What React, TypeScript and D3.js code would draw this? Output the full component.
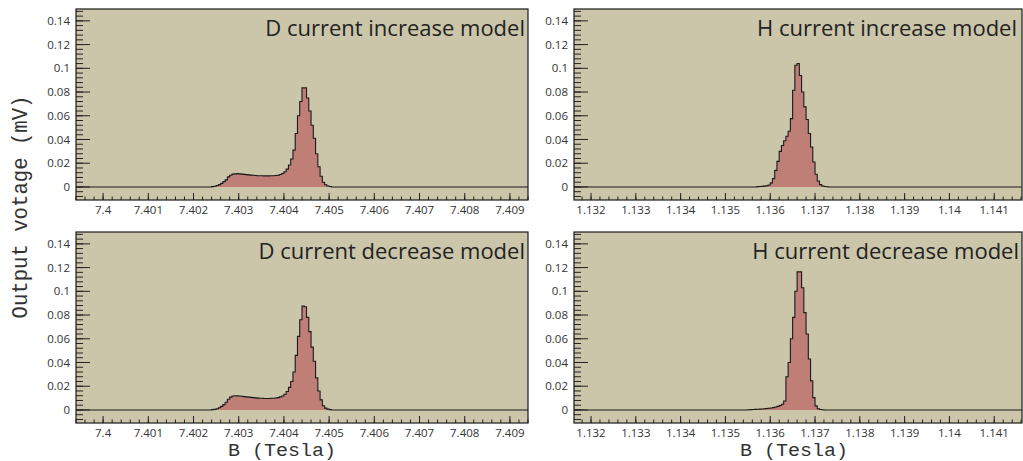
import React from 'react';
import * as d3 from 'd3';

// ---------- data ----------
const BIN_WIDTH = 0.00005;
const Y_DOMAIN: [number, number] = [-0.011, 0.15];
const Y_TICKS = [0, 0.02, 0.04, 0.06, 0.08, 0.1, 0.12, 0.14];

const D_X_DOMAIN: [number, number] = [7.3994, 7.4094];
const D_X_TICKS = [7.4, 7.401, 7.402, 7.403, 7.404, 7.405, 7.406, 7.407, 7.408, 7.409];
const H_X_DOMAIN: [number, number] = [1.13162, 1.14162];
const H_X_TICKS = [1.132, 1.133, 1.134, 1.135, 1.136, 1.137, 1.138, 1.139, 1.14, 1.141];

const D_INC_START = 7.4024;
const D_INC_VALUES = [
  0.0003, 0.0006, 0.0012, 0.002, 0.003, 0.0045, 0.006, 0.0085, 0.0098, 0.0108,
  0.011, 0.0112, 0.011, 0.0108, 0.0106, 0.0104, 0.0102, 0.01, 0.0098, 0.0096,
  0.0095, 0.0094, 0.0094, 0.0093, 0.0093, 0.0093, 0.0094, 0.0094, 0.0096, 0.0099,
  0.0105, 0.0113, 0.0128, 0.015, 0.0185, 0.0235, 0.031, 0.045, 0.06, 0.072,
  0.0835, 0.0835, 0.075, 0.064, 0.052, 0.041, 0.028, 0.017, 0.009, 0.004,
  0.0018, 0.0008, 0.0004,
];

const D_DEC_START = 7.4024;
const D_DEC_VALUES = [
  0.0003, 0.0005, 0.001, 0.0018, 0.003, 0.0045, 0.0065, 0.009, 0.0108, 0.0118,
  0.012, 0.0119, 0.0117, 0.0115, 0.0112, 0.011, 0.0108, 0.0106, 0.0104, 0.0102,
  0.01, 0.0099, 0.0098, 0.0097, 0.0097, 0.0097, 0.0098, 0.0099, 0.0101, 0.0104,
  0.011, 0.0118, 0.0132, 0.0155, 0.019, 0.024, 0.032, 0.046, 0.062, 0.076,
  0.0875, 0.087, 0.078, 0.066, 0.053, 0.041, 0.027, 0.016, 0.0085, 0.0035,
  0.0015, 0.0007, 0.0003,
];

const H_INC_START = 1.1357;
const H_INC_VALUES = [
  0.0003, 0.0004, 0.0005, 0.0007, 0.001, 0.0016, 0.0034, 0.007, 0.014, 0.0216,
  0.03, 0.035, 0.039, 0.0427, 0.047, 0.0576, 0.0815, 0.1026, 0.104, 0.094,
  0.08, 0.0675, 0.0568, 0.045, 0.0337, 0.021, 0.0107, 0.005, 0.002, 0.0008,
  0.0004, 0.0002,
];

const H_DEC_START = 1.1355;
const H_DEC_VALUES = [
  0.0002, 0.0003, 0.0004, 0.0005, 0.0006, 0.0007, 0.0008, 0.001, 0.0012, 0.0014,
  0.0017, 0.002, 0.0025, 0.003, 0.0038, 0.0048, 0.0076, 0.028, 0.04, 0.06,
  0.078, 0.1, 0.1164, 0.1164, 0.103, 0.082, 0.064, 0.043, 0.0245, 0.0104,
  0.0034, 0.001, 0.0004, 0.0002,
];

const TITLES = [
  'D current increase model',
  'H current increase model',
  'D current decrease model',
  'H current decrease model',
];
const Y_LABEL = 'Output votage (mV)';
const X_LABEL = 'B (Tesla)';

// ---------- style ----------
const BG = '#cbc6aa';
const FILL = '#bf7f77';
const TICK_FONT = '"Open Sans", "Noto Sans", sans-serif';
const LABEL_FONT = '"Liberation Mono", monospace';

type PanelProps = {
  x0: number; x1: number; y0: number; y1: number;
  xDomain: [number, number]; xTicks: number[];
  start: number; values: number[];
  title: string; titleX: number; titleY: number;
};

function rangeSteps(d0: number, d1: number, step: number) {
  const out: number[] = [];
  const i0 = Math.ceil(d0 / step - 1e-6);
  const i1 = Math.floor(d1 / step + 1e-6);
  for (let i = i0; i <= i1; i++) out.push(+(i * step).toFixed(6));
  return out;
}

function Panel(p: PanelProps) {
  const x = d3.scaleLinear().domain(p.xDomain).range([p.x0, p.x1]);
  const y = d3.scaleLinear().domain(Y_DOMAIN).range([p.y1, p.y0]);

  const pts: [number, number][] = [[p.xDomain[0], 0]];
  p.values.forEach((v, i) => pts.push([p.start + i * BIN_WIDTH, v]));
  pts.push([p.start + p.values.length * BIN_WIDTH, 0]);
  pts.push([p.xDomain[1], 0]);

  const area = d3.area<[number, number]>()
    .x(d => x(d[0])).y0(y(0)).y1(d => y(d[1])).curve(d3.curveStepAfter);
  const line = d3.line<[number, number]>()
    .x(d => x(d[0])).y(d => y(d[1])).curve(d3.curveStepAfter);

  const yMinor = rangeSteps(Y_DOMAIN[0], Y_DOMAIN[1], 0.004);
  const xMinor = rangeSteps(p.xDomain[0], p.xDomain[1], 0.0002);

  return (
    <g>
      <rect x={p.x0} y={p.y0} width={p.x1 - p.x0} height={p.y1 - p.y0} fill={BG} />
      <path d={area(pts) || ''} fill={FILL} />
      <path d={line(pts) || ''} fill="none" stroke="#1a1a1a" strokeWidth={1.1} />
      {yMinor.map((t, i) => (
        <line key={'ym' + i} x1={p.x0} x2={p.x0 + 7} y1={y(t)} y2={y(t)} stroke="#222" strokeWidth={1} />
      ))}
      {Y_TICKS.map((t, i) => (
        <g key={'y' + i}>
          <line x1={p.x0} x2={p.x0 + 14} y1={y(t)} y2={y(t)} stroke="#222" strokeWidth={1} />
          <text x={p.x0 - 6} y={y(t)} dy="0.35em" textAnchor="end" fontSize={11.5}
            fontFamily={TICK_FONT} fill="#333">{String(t)}</text>
        </g>
      ))}
      {xMinor.map((t, i) => (
        <line key={'xm' + i} x1={x(t)} x2={x(t)} y1={p.y1} y2={p.y1 - 3.5} stroke="#222" strokeWidth={1} />
      ))}
      {p.xTicks.map((t, i) => (
        <g key={'x' + i}>
          <line x1={x(t)} x2={x(t)} y1={p.y1} y2={p.y1 - 7} stroke="#222" strokeWidth={1} />
          <text x={x(t)} y={p.y1 + 13.5} textAnchor="middle" fontSize={11.5}
            fontFamily={TICK_FONT} fill="#333">{String(t)}</text>
        </g>
      ))}
      <rect x={p.x0} y={p.y0} width={p.x1 - p.x0} height={p.y1 - p.y0} fill="none" stroke="#1a1a1a" strokeWidth={1.2} />
      <text x={p.titleX} y={p.titleY} textAnchor="end" fontSize={22}
        fontFamily={TICK_FONT} fill="#222">{p.title}</text>
    </g>
  );
}

export default function App() {
  const W = 1023, H = 461;
  const L = { x0: 76, x1: 528 };
  const R = { x0: 574, x1: 1022 };
  const T = { y0: 9, y1: 200 };
  const B = { y0: 232, y1: 423 };
  return (
    <svg width={W} height={H} style={{ position: 'absolute', left: 0, top: 0, background: '#fff' }}>
      <Panel {...L} {...T} xDomain={D_X_DOMAIN} xTicks={D_X_TICKS} start={D_INC_START}
        values={D_INC_VALUES} title={TITLES[0]} titleX={525} titleY={36} />
      <Panel {...R} {...T} xDomain={H_X_DOMAIN} xTicks={H_X_TICKS} start={H_INC_START}
        values={H_INC_VALUES} title={TITLES[1]} titleX={1017} titleY={36} />
      <Panel {...L} {...B} xDomain={D_X_DOMAIN} xTicks={D_X_TICKS} start={D_DEC_START}
        values={D_DEC_VALUES} title={TITLES[2]} titleX={525} titleY={259} />
      <Panel {...R} {...B} xDomain={H_X_DOMAIN} xTicks={H_X_TICKS} start={H_DEC_START}
        values={H_DEC_VALUES} title={TITLES[3]} titleX={1019} titleY={259} />
      <text transform="translate(27,207) rotate(-90)" textAnchor="middle" fontSize={22}
        fontFamily={LABEL_FONT} fill="#333" textLength={223}
        lengthAdjust="spacingAndGlyphs">{Y_LABEL}</text>
      <text x={282} y={456} textAnchor="middle" fontSize={19}
        fontFamily={LABEL_FONT} fill="#333" textLength={108}
        lengthAdjust="spacingAndGlyphs">{X_LABEL}</text>
      <text x={794} y={456} textAnchor="middle" fontSize={19}
        fontFamily={LABEL_FONT} fill="#333" textLength={108}
        lengthAdjust="spacingAndGlyphs">{X_LABEL}</text>
    </svg>
  );
}
